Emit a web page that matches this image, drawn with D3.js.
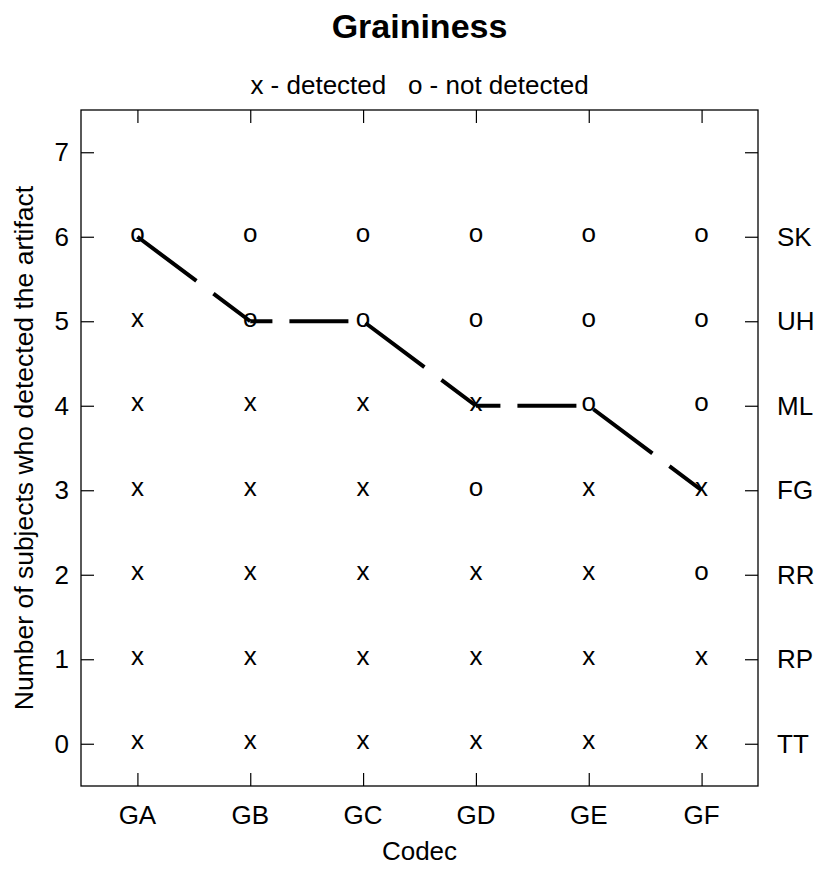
<!DOCTYPE html>
<html>
<head>
<meta charset="utf-8">
<script src="https://cdn.jsdelivr.net/npm/d3@7"></script>
<style>
  body { margin: 0; background: #fff; }
  text { font-family: "Liberation Sans", Arial, sans-serif; fill: #000; }
</style>
</head>
<body>
<div id="chart"></div>
<script>
(function(d3) {
'use strict';

// codecs on the x axis
var codecs = ['GA', 'GB', 'GC', 'GD', 'GE', 'GF'];
// subjects, bottom (0) to top (6)
var subjects = ['TT', 'RP', 'RR', 'FG', 'ML', 'UH', 'SK'];
// per codec: 1 = detected (x), 0 = not detected (o), ordered like subjects
var GA = [1, 1, 1, 1, 1, 1, 0];
var GB = [1, 1, 1, 1, 1, 0, 0];
var GC = [1, 1, 1, 1, 1, 0, 0];
var GD = [1, 1, 1, 0, 1, 0, 0];
var GE = [1, 1, 1, 1, 0, 0, 0];
var GF = [1, 1, 0, 1, 0, 0, 0];
var detections = [GA, GB, GC, GD, GE, GF];
// number of subjects who detected the artifact
var counts = [6, 5, 5, 4, 4, 3];
var yTicks = [0, 1, 2, 3, 4, 5, 6, 7];

var width = 817, height = 874;
var left = 81, right = 758, top = 110, bottom = 786;
var tickLen = 13;
var fs = 26;

var x = d3.scaleLinear().domain([0.5, 6.5]).range([left, right]);
var y = d3.scaleLinear().domain([-0.5, 7.5]).range([bottom, top]);

var svg = d3.select('#chart')
	.append('svg')
	.attr('width', width)
	.attr('height', height);

// box
svg.append('rect')
	.attr('x', left)
	.attr('y', top)
	.attr('width', right - left)
	.attr('height', bottom - top)
	.attr('fill', 'none')
	.attr('stroke', '#000')
	.attr('stroke-width', 1.3);

var xIdx = d3.range(1, codecs.length + 1);

// axes (ticks point inward, R style)
svg.append('g')
	.attr('transform', 'translate(0,' + bottom + ')')
	.call(d3.axisTop(x).tickValues(xIdx).tickSize(tickLen).tickFormat(''))
	.call(function(g) { g.select('.domain').remove(); });

svg.append('g')
	.attr('transform', 'translate(0,' + top + ')')
	.call(d3.axisBottom(x).tickValues(xIdx).tickSize(tickLen).tickFormat(''))
	.call(function(g) { g.select('.domain').remove(); });

svg.append('g')
	.attr('transform', 'translate(' + left + ',0)')
	.call(d3.axisRight(y).tickValues(yTicks).tickSize(tickLen).tickFormat(''))
	.call(function(g) { g.select('.domain').remove(); });

svg.append('g')
	.attr('transform', 'translate(' + right + ',0)')
	.call(d3.axisLeft(y).tickValues(yTicks).tickSize(tickLen).tickFormat(''))
	.call(function(g) { g.select('.domain').remove(); });

svg.selectAll('.tick line').attr('stroke', '#000').attr('stroke-width', 1.2);

// tick labels
svg.append('g').selectAll('text')
	.data(codecs)
	.enter().append('text')
	.attr('x', function(d, i) { return x(i + 1); })
	.attr('y', 824)
	.attr('text-anchor', 'middle')
	.style('font-size', fs + 'px')
	.text(function(d) { return d; });

svg.append('g').selectAll('text')
	.data(yTicks)
	.enter().append('text')
	.attr('x', 69)
	.attr('y', function(d) { return y(d); })
	.attr('dy', '0.35em')
	.attr('text-anchor', 'end')
	.style('font-size', fs + 'px')
	.text(function(d) { return d; });

svg.append('g').selectAll('text')
	.data(subjects)
	.enter().append('text')
	.attr('x', 777)
	.attr('y', function(d, i) { return y(i); })
	.attr('dy', '0.35em')
	.style('font-size', fs + 'px')
	.text(function(d) { return d; });

// markers
detections.forEach(function(col, ci) {
	svg.append('g').selectAll('text')
		.data(col)
		.enter().append('text')
		.attr('x', x(ci + 1))
		.attr('y', function(d, i) { return y(i); })
		.attr('dy', '0.22em')
		.attr('text-anchor', 'middle')
		.style('font-size', fs + 'px')
		.text(function(d) { return d ? 'x' : 'o'; });
});

// dashed line; dash pattern runs along x, so each segment gets its own scaled pattern
var dashOn = 59, dashOff = 17, period = dashOn + dashOff;
var pts = counts.map(function(c, i) { return [x(i + 1), y(c)]; });
for (var i = 0; i < pts.length - 1; i++) {
	var p0 = pts[i], p1 = pts[i + 1];
	var dx = p1[0] - p0[0], dy = p1[1] - p0[1];
	var k = Math.sqrt(dx * dx + dy * dy) / dx;
	var phase = (p0[0] - pts[0][0]) % period;
	svg.append('line')
		.attr('x1', p0[0]).attr('y1', p0[1])
		.attr('x2', p1[0]).attr('y2', p1[1])
		.attr('stroke', '#000')
		.attr('stroke-width', 4)
		.attr('stroke-dasharray', (dashOn * k) + ' ' + (dashOff * k))
		.attr('stroke-dashoffset', phase * k);
}

// titles
svg.append('text')
	.attr('x', (left + right) / 2)
	.attr('y', 38)
	.attr('text-anchor', 'middle')
	.style('font-size', '34px')
	.style('font-weight', 'bold')
	.text('Graininess');

svg.append('text')
	.attr('x', (left + right) / 2)
	.attr('y', 94)
	.attr('text-anchor', 'middle')
	.style('font-size', fs + 'px')
	.style('white-space', 'pre')
	.text('x - detected   o - not detected');

svg.append('text')
	.attr('x', (left + right) / 2)
	.attr('y', 860)
	.attr('text-anchor', 'middle')
	.style('font-size', fs + 'px')
	.text('Codec');

svg.append('text')
	.attr('transform', 'translate(33,' + ((top + bottom) / 2) + ') rotate(-90)')
	.attr('text-anchor', 'middle')
	.style('font-size', '26.5px')
	.text('Number of subjects who detected the artifact');

})(window.d3);
</script>
</body>
</html>
